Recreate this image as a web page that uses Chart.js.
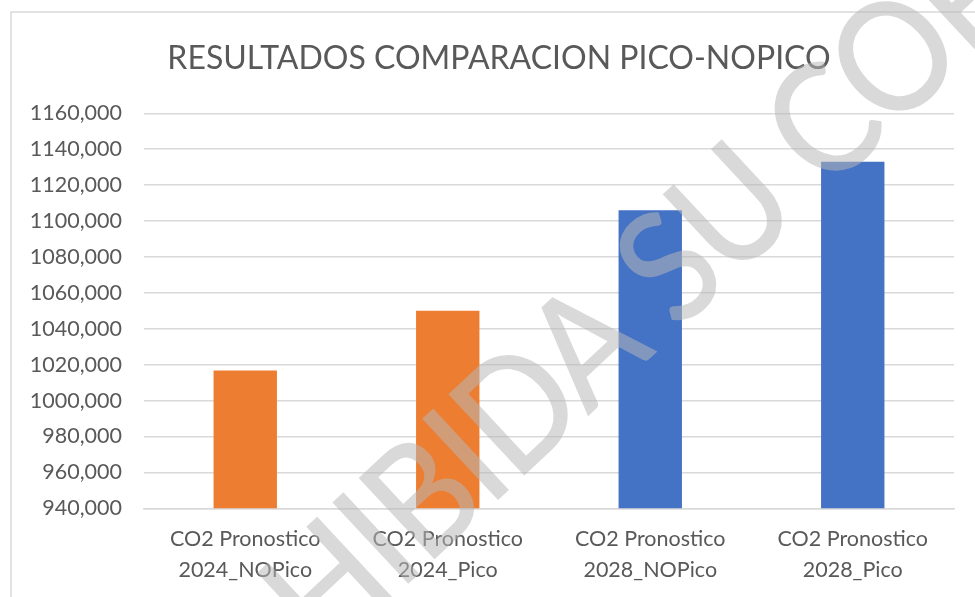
<!DOCTYPE html>
<html>
<head>
<meta charset="utf-8">
<script src="https://cdn.jsdelivr.net/npm/chart.js@4.4.1/dist/chart.umd.min.js"></script>
<style>
  html, body { margin: 0; padding: 0; background: #ffffff; }
  #wrap { width: 975px; height: 597px; }
</style>
</head>
<body>
<div id="wrap"><canvas id="co2_chart" width="975" height="597"></canvas></div>
<script>
const chart_title = "RESULTADOS COMPARACION PICO-NOPICO";
const watermark = "PROHIBIDA SU COPIA";
const categories = [
    ["CO2 Pronostico", "2024_NOPico"],
    ["CO2 Pronostico", "2024_Pico"],
    ["CO2 Pronostico", "2028_NOPico"],
    ["CO2 Pronostico", "2028_Pico"]
];
const co2_values = [1016700, 1050000, 1106000, 1133000];
const bar_colors = ["#ED7D31", "#ED7D31", "#4472C4", "#4472C4"];
const y_min = 940000;
const y_max = 1160000;
const y_step = 20000;

const text_color = "#595959";
const grid_color = "#d9d9d9";

function tickLabel(v) {
    return Math.floor(v / 1000) + "," + String(v % 1000).padStart(3, "0");
}

const frame = {
    id: 'excelFrame',
    beforeDraw: (chart) => {
        const {ctx} = chart;
        ctx.save();
        ctx.fillStyle = '#ffffff';
        ctx.fillRect(0, 0, chart.width, chart.height);
        ctx.strokeStyle = grid_color;
        ctx.lineWidth = 1.5;
        ctx.beginPath();
        ctx.moveTo(11, chart.height + 5);
        ctx.lineTo(11, 12);
        ctx.lineTo(chart.width + 5, 12);
        ctx.stroke();

        ctx.fillStyle = text_color;
        ctx.font = "32px Lato";
        ctx.textAlign = "center";
        ctx.textBaseline = "alphabetic";
        ctx.fillText(chart_title, 499, 69);
        ctx.restore();
    },
    afterDraw: (chart) => {
        // diagonal watermark: first "I" of PROHIBIDA to the "C" of COPIA is ~610px
        const {ctx} = chart;
        const size = 155;
        const sx = 0.9;
        ctx.save();
        ctx.font = "500 " + size + "px Lato";
        ctx.fillStyle = "rgba(184,184,184,0.535)";
        ctx.textBaseline = "alphabetic";
        ctx.textAlign = "left";
        const w = (s) => ctx.measureText(s).width;
        const iPos = w("PROH") + w("I") / 2;
        let cPos = w("PROHIBIDA SU ") + w("C") / 2;
        const ls = (610 / sx - (cPos - iPos)) / 9;
        cPos += 13 * ls;
        ctx.letterSpacing = ls + "px";
        ctx.translate(822, 122);
        ctx.rotate(-43 * Math.PI / 180);
        ctx.scale(sx, 1);
        ctx.fillText(watermark, -cPos, size * 0.717 / 2);
        ctx.restore();
    }
};

const ctx = document.getElementById('co2_chart').getContext('2d');

const co2_chart = new Chart(ctx, {
    type: 'bar',
    data: {
        labels: categories,
        datasets: [{
            label: "CO2",
            data: co2_values,
            backgroundColor: bar_colors,
            borderWidth: 0,
            categoryPercentage: 1,
            barPercentage: 0.313
        }]
    },
    options: {
        responsive: false,
        animation: false,
        layout: {
            padding: { left: 0, right: 21, top: 113.3, bottom: 0 }
        },
        scales: {
            x: {
                grid: { display: false, drawTicks: false },
                border: { display: true, color: grid_color, width: 1.5 },
                ticks: {
                    padding: 15,
                    maxRotation: 0,
                    autoSkip: false,
                    color: text_color,
                    font: { family: "Lato", size: 21.5, lineHeight: 1.44 }
                },
                afterFit: (scale) => { scale.height = 597 - 508.3; }
            },
            y: {
                min: y_min,
                max: y_max,
                grid: { color: grid_color, lineWidth: 1.5, drawTicks: false },
                border: { display: false },
                ticks: {
                    stepSize: y_step,
                    padding: 22,
                    autoSkip: false,
                    color: text_color,
                    font: { family: "Lato", size: 21.5 },
                    callback: (v) => tickLabel(v)
                },
                afterFit: (scale) => { scale.width = 144; }
            }
        },
        plugins: {
            legend: { display: false },
            title: { display: false },
            tooltip: { enabled: false }
        }
    },
    plugins: [frame]
});
</script>
</body>
</html>
